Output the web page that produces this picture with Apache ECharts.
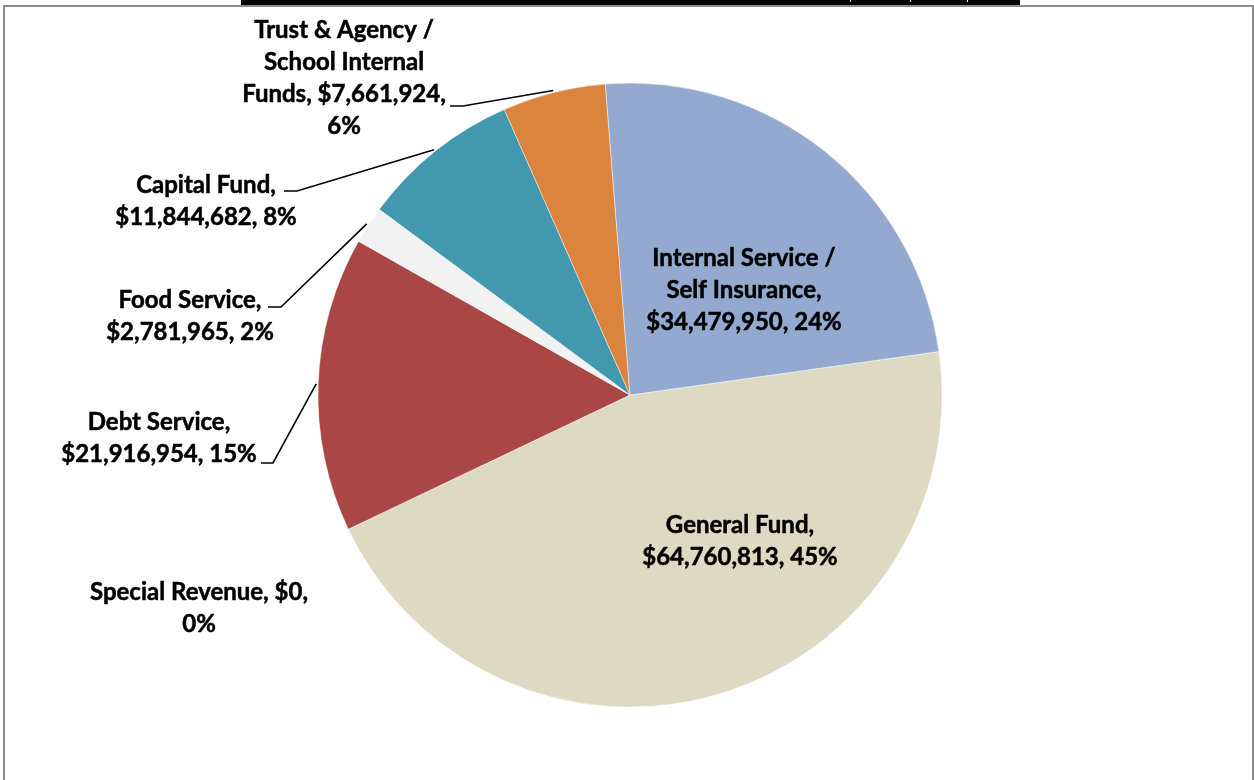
<!DOCTYPE html>
<html><head><meta charset="utf-8">
<script src="https://cdn.jsdelivr.net/npm/echarts@6/dist/echarts.min.js"></script>
<style>html,body{margin:0;padding:0;background:#fff;overflow:hidden}#c{width:1254px;height:780px}</style>
</head><body><div id="c"></div>
<script>
// ---- data ----
const categories = ['General Fund', 'Special Revenue', 'Debt Service', 'Food Service', 'Capital Fund',
  'Trust & Agency /\nSchool Internal\nFunds', 'Internal Service /\nSelf Insurance'];
const values = [64760813, 0, 21916954, 2781965, 11844682, 7661924, 34479950];
const pctLabels = [45, 0, 15, 2, 8, 6, 24];
const colors = ['#DDD9C3', '#BFBFBF', '#AA4643', '#F2F2F2', '#4198AF', '#DB843D', '#93A9CF'];

// ---- layout (positions / styles) ----
const CX = 630, CY = 395, R = 312, START = 8;
const labelCfg = [
  { x: 740, y: 541, s1: '\n', s2: ' ', inside: true },
  { x: 199, y: 608, s1: ' ', s2: '\n', noLine: true },
  { x: 159, y: 438, s1: '\n', s2: ' ', corner: [273, 463], end: [261, 463] },
  { x: 190, y: 316, s1: '\n', s2: ' ', corner: [281, 307], end: [268, 307] },
  { x: 206, y: 201, s1: '\n', s2: ' ', corner: [297, 191], end: [284, 191] },
  { x: 344, y: 78, s1: ' ', s2: '\n', corner: [463, 106], end: [450, 106] },
  { x: 744, y: 290, s1: '\n', s2: ' ', inside: true }
];

const total = values.reduce((a, b) => a + b, 0);
function edgePoint(i, r) {
  let cum = 0;
  for (let k = 0; k < i; k++) cum += values[k];
  const f = (cum + values[i] / 2) / total;
  const th = (90 - START + 360 * f) * Math.PI / 180;
  return [CX + r * Math.sin(th), CY - r * Math.cos(th)];
}

const data = categories.map((name, i) => {
  const c = labelCfg[i];
  return {
    name: name, value: values[i],
    itemStyle: { color: colors[i] },
    label: { position: c.inside ? 'inside' : 'outside' },
    labelLine: { show: !(c.inside || c.noLine) }
  };
});

const chart = echarts.init(document.getElementById('c'), null, { renderer: 'canvas' });
chart.setOption({
  backgroundColor: '#ffffff',
  animation: false,
  graphic: [
    { type: 'rect', shape: { x: 4, y: 6, width: 1249, height: 800 }, style: { fill: 'none', stroke: '#8c8c8c', lineWidth: 2 }, z: 1 },
    { type: 'rect', shape: { x: 241, y: 0, width: 779, height: 5 }, style: { fill: '#000' }, z: 2 },
    { type: 'rect', shape: { x: 850, y: 0, width: 1, height: 2 }, style: { fill: '#fff' }, z: 3 },
    { type: 'rect', shape: { x: 910, y: 0, width: 1, height: 2 }, style: { fill: '#fff' }, z: 3 },
    { type: 'rect', shape: { x: 967, y: 0, width: 1, height: 2 }, style: { fill: '#fff' }, z: 3 }
  ],
  series: [{
    type: 'pie',
    center: [CX, CY],
    radius: R,
    startAngle: START,
    clockwise: true,
    avoidLabelOverlap: false,
    minShowLabelAngle: 0,
    itemStyle: { borderColor: 'rgba(255,255,255,0.45)', borderWidth: 1 },
    label: {
      show: true,
      color: '#000',
      fontFamily: 'Lato',
      fontWeight: 'bold',
      fontSize: 24,
      lineHeight: 32,
      align: 'center',
      textBorderColor: '#000',
      textBorderWidth: 0.5,
      formatter: function (p) {
        const c = labelCfg[p.dataIndex];
        return p.name + ',' + c.s1 + '$' + values[p.dataIndex].toLocaleString('en-US') + ',' + c.s2 + pctLabels[p.dataIndex] + '%';
      }
    },
    labelLine: { show: true, lineStyle: { color: '#000', width: 1.6 }, smooth: false },
    labelLayout: function (params) {
      const i = params.dataIndex;
      const c = labelCfg[i];
      const out = { x: c.x, y: c.y, align: 'center', verticalAlign: 'middle' };
      if (c.corner) {
        out.labelLinePoints = [edgePoint(i, R + 2), c.corner, c.end];
      }
      return out;
    },
    emphasis: { disabled: true },
    data: data
  }]
});
</script></body></html>
